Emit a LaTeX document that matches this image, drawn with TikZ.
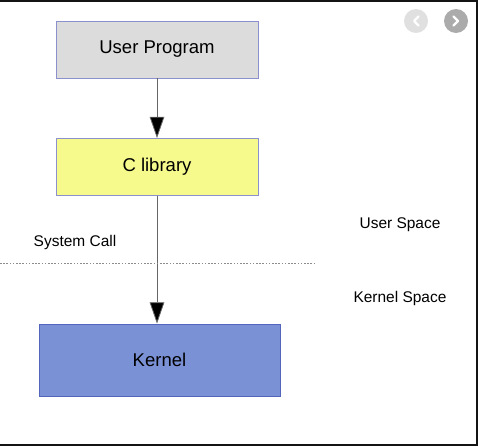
\documentclass[tikz,border=0pt]{standalone}
\usepackage{fontspec}
\setmainfont{Liberation Sans}
\usetikzlibrary{arrows.meta,positioning}
\definecolor{progfill}{HTML}{DCDCDC}
\definecolor{libfill}{HTML}{F6FA8C}
\definecolor{kernfill}{HTML}{7A91D6}
\definecolor{boxline}{HTML}{8C90CC}
\definecolor{kernline}{HTML}{5466BC}
\definecolor{frameline}{HTML}{141414}

\begin{document}
\begin{tikzpicture}[
    x=0.75pt, y=-0.75pt,
    layer/.style={
        rectangle,
        draw=boxline,
        line width=0.6pt,
        minimum width=151.5pt,
        minimum height=42.75pt,
        inner sep=0pt,
        font=\fontsize{13.9}{16}\selectfont
    },
    label text/.style={inner sep=0pt, font=\fontsize{11.6}{14}\selectfont},
    call/.style={draw=black!60, line width=0.6pt,
        -{Triangle[length=16pt,width=11pt,fill=black]}},
    nav/.style={circle, minimum size=18pt, inner sep=0pt},
    chevron/.style={white, line width=1.6pt, line cap=round, line join=round}
]
\useasboundingbox (0,0) rectangle (478,446);

% frame of the screenshot
\fill[frameline] (0,0) rectangle (478,2);
\fill[frameline] (476,0) rectangle (478,446);
\fill[frameline] (0,444) rectangle (478,446);

% nav buttons
\node[nav, fill=black!12] (prev) at (416,21) {};
\node[nav, fill=black!33] (next) at (456,21) {};
\draw[chevron] ([xshift=2pt,yshift=3.5pt]prev.center) -- ([xshift=-1.5pt]prev.center) -- ([xshift=2pt,yshift=-3.5pt]prev.center);
\draw[chevron] ([xshift=-2pt,yshift=3.5pt]next.center) -- ([xshift=1.5pt]next.center) -- ([xshift=-2pt,yshift=-3.5pt]next.center);

% layers
\node[layer, fill=progfill] (prog) at (157,49.5) {User Program};
\node[layer, fill=libfill] (clib) at (157,167) {C library};
\node[layer, fill=kernfill, draw=kernline, minimum width=180.75pt,
      minimum height=54pt] (kern) at (159.5,360) {Kernel};

\draw[call] (prog) -- (clib);
\draw[call] (clib.south) -- (clib.south |- kern.north);

% boundary
\coordinate (bl) at (0,263);
\coordinate (br) at (315,263);
\draw[black!45, line width=0.6pt, dash pattern=on 1.2pt off 1.2pt] (bl) -- (br);

\node[label text] (sys) at (75,242.5) {System Call};
\node[label text] (uspace) at (400,224.5) {User Space};
\node[label text] (kspace) at (400,298) {Kernel Space};

\end{tikzpicture}
\end{document}
